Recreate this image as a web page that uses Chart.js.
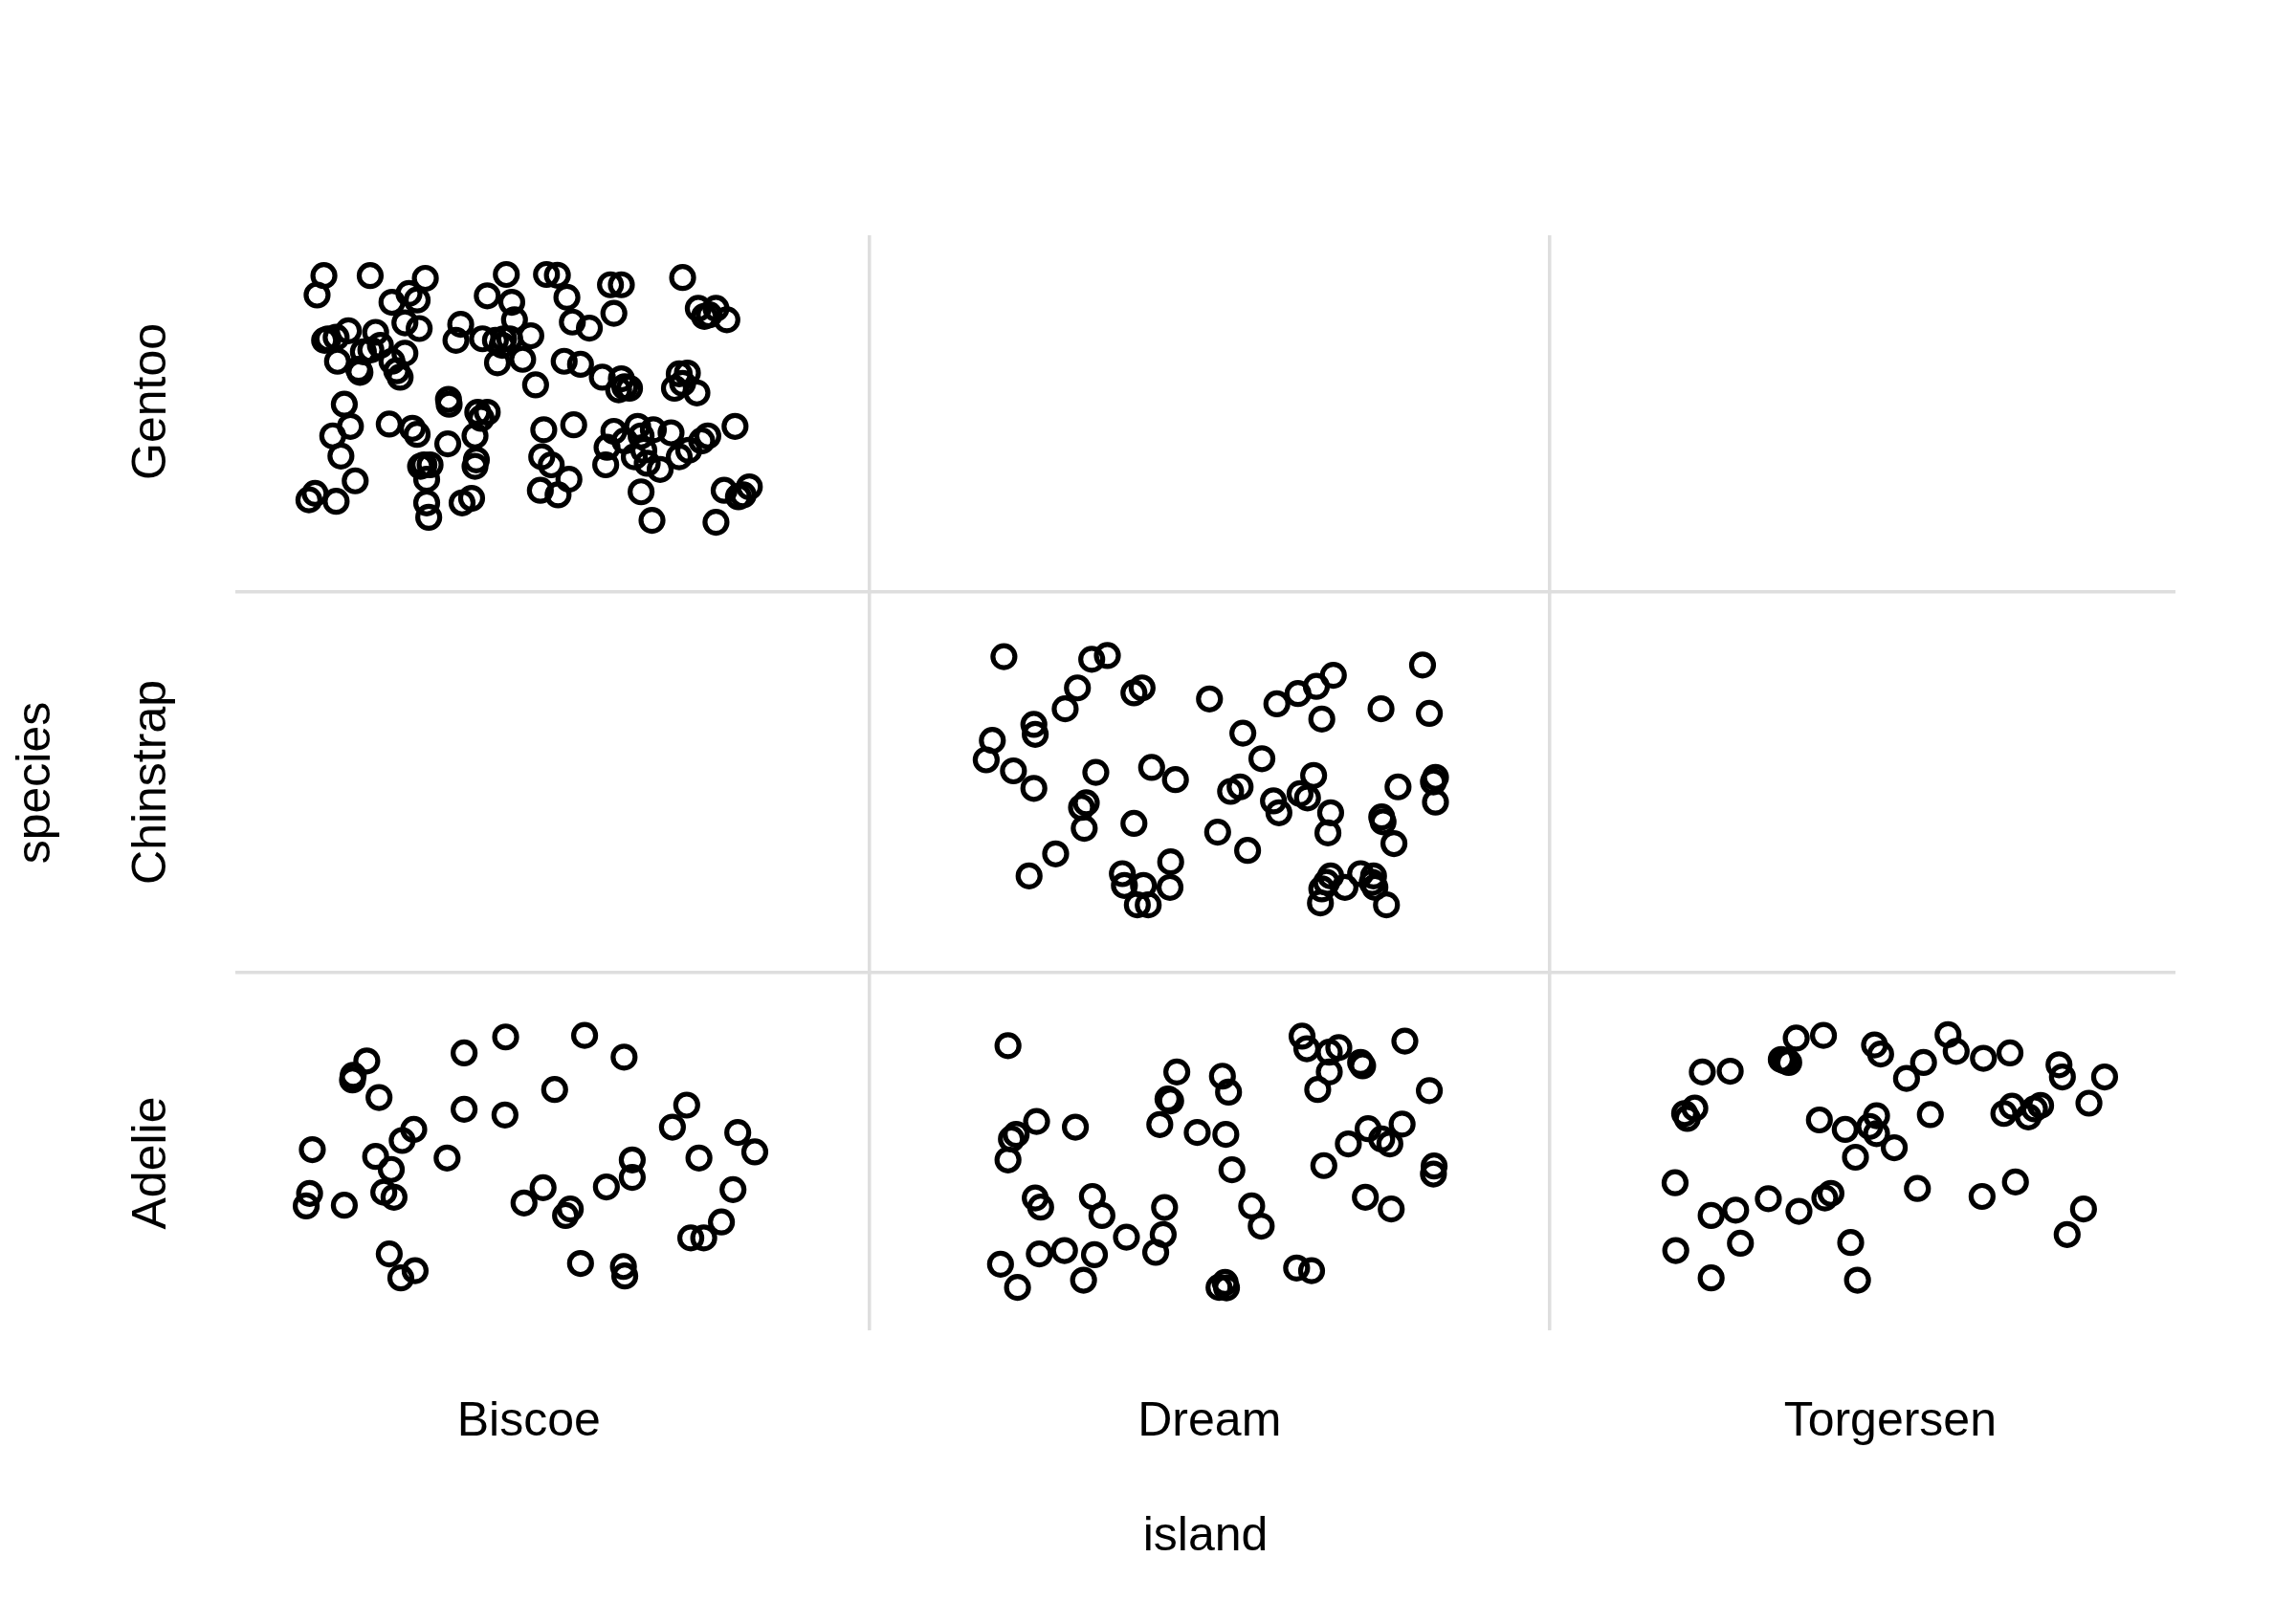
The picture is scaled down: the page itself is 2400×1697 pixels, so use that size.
<!DOCTYPE html>
<html>
<head>
<meta charset="utf-8">
<script src="https://cdn.jsdelivr.net/npm/chart.js@4.4.0/dist/chart.umd.min.js"></script>
<style>
  html, body { margin: 0; padding: 0; background: #fff; }
  #wrap { width: 2400px; height: 1697px; }
</style>
</head>
<body>
<div id="wrap"><canvas id="chart" width="2400" height="1697"></canvas></div>
<script>
// categorias (1 = primera posicion en cada eje)
const islands = ['Biscoe', 'Dream', 'Torgersen'];
const species = ['Adelie', 'Chinstrap', 'Gentoo'];
const tickValues = [1, 1.5, 2, 2.5, 3];

// puntos con jitter (x = isla, y = especie)
const gentooBiscoeX = [0.699,0.689,0.767,0.848,0.824,0.836,0.799,0.818,0.839,0.967,0.939,0.975,0.979,1.026,1.042,1.056,1.064,1.089,1.120,1.136,1.125,1.226,1.249,1.265,1.275,1.291,1.258,0.705,0.717,0.735,0.719,0.752,0.768,0.775,0.782,0.799,0.806,0.818,0.811,0.750,0.900,0.893,0.932,0.951,0.963,0.954,0.991,1.003,1.010,0.972,1.052,1.076,1.108,1.136,1.148,1.132,1.221,1.233,1.214,1.247,1.226,0.729,0.738,0.712,0.724,0.745,0.686,0.677,0.717,0.795,0.829,0.836,0.882,0.883,0.881,0.939,0.930,0.921,0.923,0.921,0.846,0.855,0.850,0.850,0.853,0.902,0.916,1.022,1.066,1.019,1.033,1.059,1.017,1.043,1.125,1.115,1.113,1.160,1.165,1.155,1.174,1.193,1.209,1.221,1.254,1.263,1.303,1.165,1.181,1.275,1.287,1.308,1.324,1.141,1.183,1.235,0.700,0.757,0.961,1.315,1.141,0.841,0.925,1.169];
const gentooBiscoeY = [3.331,3.280,3.331,3.324,3.284,3.267,3.261,3.207,3.192,3.334,3.278,3.261,3.215,3.334,3.332,3.274,3.209,3.193,3.307,3.307,3.232,3.326,3.245,3.228,3.245,3.215,3.224,3.165,3.169,3.186,3.106,3.077,3.136,3.182,3.148,3.106,3.081,3.127,3.064,3.085,3.203,3.161,3.165,3.161,3.165,3.102,3.111,3.173,3.044,3.165,3.106,3.098,3.064,3.060,3.035,3.031,3.073,3.075,3.035,3.023,3.048,2.993,2.935,2.910,2.857,2.792,2.759,2.742,2.738,2.941,2.930,2.914,3.006,2.993,2.889,2.972,2.956,2.910,2.847,2.830,2.834,2.834,2.796,2.734,2.696,2.734,2.746,2.926,2.939,2.855,2.834,2.796,2.767,2.755,2.922,2.880,2.834,2.935,2.910,2.855,2.838,2.822,2.918,2.855,2.897,2.910,2.935,2.763,2.688,2.683,2.767,2.750,2.776,2.897,2.926,2.872,3.161,3.131,3.148,2.755,3.039,2.830,2.972,2.872];

const chinstrapDreamX = [1.698,1.827,1.850,1.806,1.788,1.742,1.744,1.681,1.672,1.712,1.742,1.833,1.819,1.812,1.816,1.774,1.735,1.889,1.901,1.915,1.950,1.889,1.872,1.875,1.903,1.894,1.910,1.943,1.942,2.000,2.049,2.077,2.031,2.045,2.012,2.056,2.099,2.130,2.157,2.182,2.165,2.153,2.133,2.144,2.094,2.102,2.178,2.174,2.178,2.165,2.163,2.199,2.222,2.241,2.243,2.260,2.252,2.313,2.323,2.277,2.332,2.329,2.332,2.253,2.255,2.271,2.172,2.239];
const chinstrapDreamY = [2.330,2.323,2.333,2.248,2.193,2.152,2.126,2.110,2.059,2.030,1.984,2.026,1.946,1.934,1.879,1.812,1.754,2.235,2.248,2.039,2.007,1.892,1.760,1.729,1.729,1.678,1.678,1.791,1.724,2.219,2.129,2.062,1.976,1.988,1.869,1.821,2.206,2.233,2.252,2.281,2.166,2.018,1.970,1.959,1.951,1.920,1.920,1.867,1.754,1.720,1.683,1.724,1.760,1.754,1.724,1.678,2.193,2.308,2.181,1.988,2.013,2.001,1.948,1.909,1.896,1.839,1.737,1.737];

const adelieBiscoeX = [0.762,0.742,0.741,0.780,0.905,0.966,1.082,1.140,1.038,0.905,0.965,0.831,0.814,0.682,0.775,0.798,0.880,0.678,0.673,0.729,0.787,0.802,0.795,0.812,0.833,1.021,0.993,1.061,1.054,1.114,1.152,1.152,1.076,1.139,1.141,1.232,1.211,1.307,1.332,1.250,1.300,1.283,1.238,1.257];
const adelieBiscoeY = [1.268,1.230,1.218,1.172,1.289,1.331,1.335,1.278,1.193,1.141,1.126,1.088,1.059,1.035,1.017,0.983,1.013,0.920,0.887,0.889,0.923,0.910,0.761,0.698,0.717,0.935,0.895,0.879,0.862,0.937,1.008,0.962,0.736,0.728,0.703,1.152,1.094,1.080,1.029,1.013,0.930,0.845,0.803,0.803];

const adelieDreamX = [1.704,1.746,1.716,1.709,1.704,1.803,1.744,1.752,1.828,1.842,1.693,1.718,1.750,1.787,1.831,1.815,1.878,1.952,1.939,1.943,1.927,1.982,2.024,2.019,2.028,2.033,1.934,1.932,1.921,2.062,2.076,2.014,2.023,2.025,2.136,2.143,2.176,2.190,2.222,2.225,2.176,2.159,2.287,2.323,2.233,2.204,2.253,2.265,2.283,2.168,2.330,2.329,2.229,2.267,2.128,2.150];
const adelieDreamY = [1.308,1.109,1.075,1.063,1.008,1.094,0.908,0.884,0.912,0.862,0.734,0.673,0.761,0.770,0.759,0.692,0.805,1.239,1.168,1.163,1.101,1.080,1.075,1.228,1.186,0.982,0.883,0.812,0.765,0.887,0.834,0.673,0.686,0.672,1.333,1.300,1.291,1.303,1.264,1.255,1.239,1.193,1.320,1.190,1.090,1.050,1.063,1.050,1.102,0.993,0.992,0.971,0.910,0.879,0.724,0.717];

const adelieTorgersenX = [2.724,2.765,2.862,2.902,2.840,2.851,2.713,2.698,2.702,2.977,2.986,3.049,3.024,3.085,3.097,3.137,3.176,3.248,3.253,3.315,3.292,2.896,2.934,2.980,2.970,2.980,3.006,2.949,3.059,3.167,3.179,3.203,3.212,3.221,2.684,2.737,2.773,2.821,2.866,2.904,2.913,2.685,2.780,2.737,2.942,2.952,3.040,3.135,3.184,3.284,3.260,2.845];
const adelieTorgersenY = [1.239,1.241,1.328,1.335,1.272,1.264,1.144,1.130,1.117,1.310,1.286,1.264,1.222,1.337,1.293,1.275,1.289,1.258,1.226,1.226,1.157,1.113,1.088,1.124,1.096,1.077,1.040,1.015,1.127,1.130,1.149,1.121,1.142,1.151,0.948,0.862,0.876,0.906,0.873,0.908,0.920,0.770,0.789,0.698,0.791,0.692,0.933,0.912,0.950,0.879,0.812,1.268];

const FONT = '"Liberation Sans", Arial, Helvetica, sans-serif';
const GRID = '#dedede';

const toPoints = (xs, ys) => xs.map((x, i) => ({ x: x, y: ys[i] }));

const cells = [
    ['Gentoo / Biscoe', gentooBiscoeX, gentooBiscoeY],
    ['Chinstrap / Dream', chinstrapDreamX, chinstrapDreamY],
    ['Adelie / Biscoe', adelieBiscoeX, adelieBiscoeY],
    ['Adelie / Dream', adelieDreamX, adelieDreamY],
    ['Adelie / Torgersen', adelieTorgersenX, adelieTorgersenY]
];

// etiquetas del eje y giradas (Chart.js no rota ticks verticales)
const yLabelsPlugin = {
    id: 'yLabels',
    afterDraw(chart) {
        const ctx = chart.ctx;
        const yScale = chart.scales.y;
        ctx.save();
        ctx.font = '50px ' + FONT;
        ctx.fillStyle = '#000';
        ctx.textAlign = 'center';
        ctx.textBaseline = 'alphabetic';
        species.forEach((name, i) => {
            ctx.save();
            ctx.translate(173, yScale.getPixelForValue(i + 1));
            ctx.rotate(-Math.PI / 2);
            ctx.fillText(name, 0, 0);
            ctx.restore();
        });
        ctx.restore();
    }
};

const gridColor = (c) => (c.tick && c.tick.value % 1 !== 0) ? GRID : 'rgba(0,0,0,0)';

new Chart(document.getElementById('chart').getContext('2d'), {
    type: 'scatter',
    data: {
        datasets: cells.map(([label, xs, ys]) => ({
            label: label,
            data: toPoints(xs, ys),
            pointStyle: 'circle',
            pointRadius: 11.5,
            pointHoverRadius: 11.5,
            pointBorderWidth: 5.2,
            pointHoverBorderWidth: 5.2,
            pointBorderColor: '#000',
            pointBackgroundColor: 'rgba(0,0,0,0)'
        }))
    },
    options: {
        responsive: false,
        animation: false,
        devicePixelRatio: 1,
        layout: { padding: { top: 246, right: 126, left: 0, bottom: 0 } },
        plugins: {
            legend: { display: false },
            tooltip: { enabled: false }
        },
        scales: {
            x: {
                type: 'linear',
                min: 0.5689,
                max: 3.4191,
                afterBuildTicks: (s) => { s.ticks = tickValues.map(v => ({ value: v })); },
                afterFit: (s) => { s.height = 306; },
                border: { display: false },
                grid: { drawTicks: false, color: gridColor, lineWidth: 3.5 },
                ticks: {
                    autoSkip: false,
                    maxRotation: 0,
                    padding: 66,
                    color: '#000',
                    font: { size: 50, family: FONT },
                    callback: (v) => Number.isInteger(v) ? islands[v - 1] : ''
                },
                title: {
                    display: true,
                    text: 'island',
                    color: '#000',
                    font: { size: 50, family: FONT },
                    padding: { top: 0, bottom: 60 }
                }
            },
            y: {
                type: 'linear',
                min: 0.5603,
                max: 3.437,
                afterBuildTicks: (s) => { s.ticks = tickValues.map(v => ({ value: v })); },
                afterFit: (s) => { s.width = 246; },
                border: { display: false },
                grid: { drawTicks: false, color: gridColor, lineWidth: 3.5 },
                ticks: { display: false },
                title: {
                    display: true,
                    text: 'species',
                    color: '#000',
                    font: { size: 50, family: FONT },
                    padding: { top: 8, bottom: 0 }
                }
            }
        }
    },
    plugins: [yLabelsPlugin]
});
</script>
</body>
</html>
